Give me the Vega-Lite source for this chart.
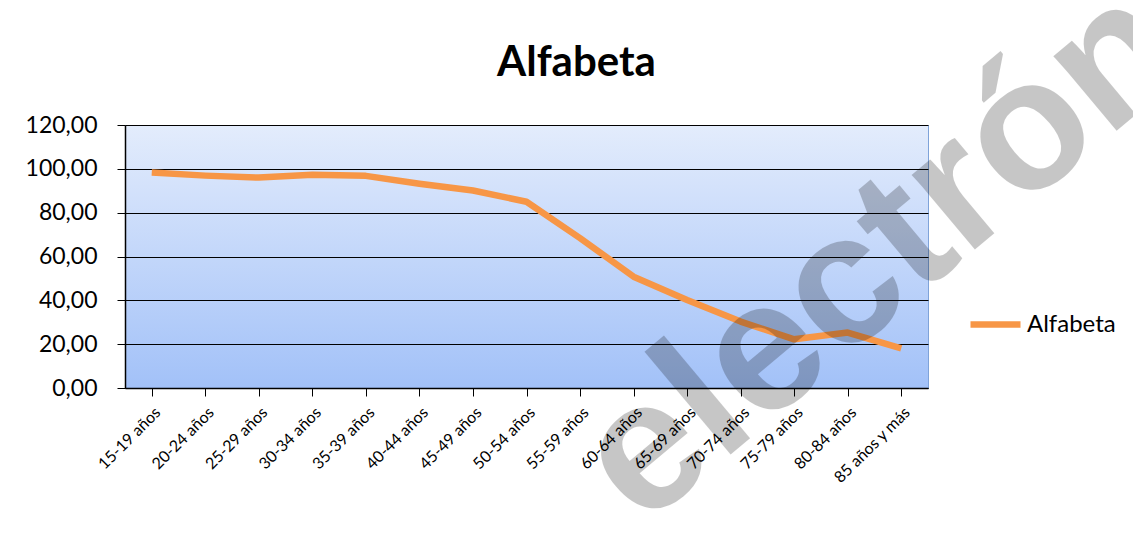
{
  "$schema": "https://vega.github.io/schema/vega-lite/v6.json",
  "width": 803,
  "height": 263,
  "autosize": "none",
  "padding": {"left": 125, "top": 125, "right": 205, "bottom": 159},
  "background": "white",
  "layer": [
    {
      "data": {"values": [
        {"grupo": "15-19 años", "valor": 98.3, "serie": "Alfabeta"},
        {"grupo": "20-24 años", "valor": 96.9, "serie": "Alfabeta"},
        {"grupo": "25-29 años", "valor": 96.0, "serie": "Alfabeta"},
        {"grupo": "30-34 años", "valor": 97.3, "serie": "Alfabeta"},
        {"grupo": "35-39 años", "valor": 96.8, "serie": "Alfabeta"},
        {"grupo": "40-44 años", "valor": 93.2, "serie": "Alfabeta"},
        {"grupo": "45-49 años", "valor": 90.1, "serie": "Alfabeta"},
        {"grupo": "50-54 años", "valor": 85.0, "serie": "Alfabeta"},
        {"grupo": "55-59 años", "valor": 68.4, "serie": "Alfabeta"},
        {"grupo": "60-64 años", "valor": 50.8, "serie": "Alfabeta"},
        {"grupo": "65-69 años", "valor": 40.2, "serie": "Alfabeta"},
        {"grupo": "70-74 años", "valor": 30.3, "serie": "Alfabeta"},
        {"grupo": "75-79 años", "valor": 22.2, "serie": "Alfabeta"},
        {"grupo": "80-84 años", "valor": 25.3, "serie": "Alfabeta"},
        {"grupo": "85 años y más", "valor": 18.1, "serie": "Alfabeta"}
      ]},
      "mark": {"type": "line", "strokeWidth": 6.5, "strokeCap": "butt", "strokeJoin": "round"},
      "encoding": {
        "x": {
          "field": "grupo", "type": "ordinal", "sort": null,
          "scale": {"paddingInner": 0, "paddingOuter": 0, "align": 0.5},
          "axis": {"orient": "bottom", "title": null, "labelAngle": -45, "labelAlign": "right", "labelBaseline": "top", "labelFont": "Lato", "labelFontSize": 16, "labelColor": "#000000", "labelPadding": 8, "bandPosition": 0, "tickColor": "#000000", "tickSize": 8, "domainColor": "#000000", "domainWidth": 1.5, "grid": false}
        },
        "y": {
          "field": "valor", "type": "quantitative",
          "scale": {"domain": [0, 120], "nice": false},
          "axis": {"title": null, "values": [0, 20, 40, 60, 80, 100, 120], "labelExpr": "replace(format(datum.value, '.2f'), '.', ',')", "labelFont": "Lato", "labelFontSize": 23, "labelColor": "#000000", "labelPadding": 20, "tickColor": "#000000", "tickSize": 8, "domainColor": "#000000", "domainWidth": 1.5, "grid": true, "gridColor": "#000000", "gridWidth": 1.2}
        },
        "color": {
          "field": "serie", "type": "nominal",
          "scale": {"range": ["#f79646"]},
          "legend": {"title": null, "orient": "none", "legendX": 842, "legendY": 171, "symbolType": "stroke", "symbolStrokeWidth": 6.5, "symbolSize": 2500, "labelFont": "Lato", "labelFontSize": 24, "labelColor": "#000000", "labelOffset": 3}
        }
      }
    },
    {
      "data": {"values": [{"marca": "electrónico", "grupo": "60-64 años", "valor": -67.5}]},
      "mark": {"type": "text", "font": "Liberation Sans", "fontWeight": "bold", "fontSize": 185, "angle": -40, "align": "left", "baseline": "alphabetic", "dx": 11, "color": "#000000", "opacity": 0.22},
      "encoding": {
        "x": {
          "field": "grupo", "type": "ordinal", "sort": null,
          "axis": {"orient": "top", "domain": false, "ticks": false, "labels": false, "grid": false, "title": "Alfabeta", "titleFont": "Lato", "titleFontSize": 42, "titleFontWeight": "bold", "titleColor": "#000000", "titleAlign": "center", "titleBaseline": "alphabetic", "titleAnchor": null, "titleX": 451, "titleY": -50, "titleAngle": 0}
        },
        "y": {"field": "valor", "type": "quantitative"},
        "text": {"field": "marca"}
      }
    }
  ],
  "resolve": {"axis": {"x": "independent"}},
  "config": {
    "view": {
      "stroke": "#7fa3d9",
      "strokeWidth": 1,
      "fill": {"gradient": "linear", "x1": 0, "y1": 0, "x2": 0, "y2": 1, "stops": [{"offset": 0, "color": "#e3ecfc"}, {"offset": 1, "color": "#a2c1f8"}]}
    }
  }
}
